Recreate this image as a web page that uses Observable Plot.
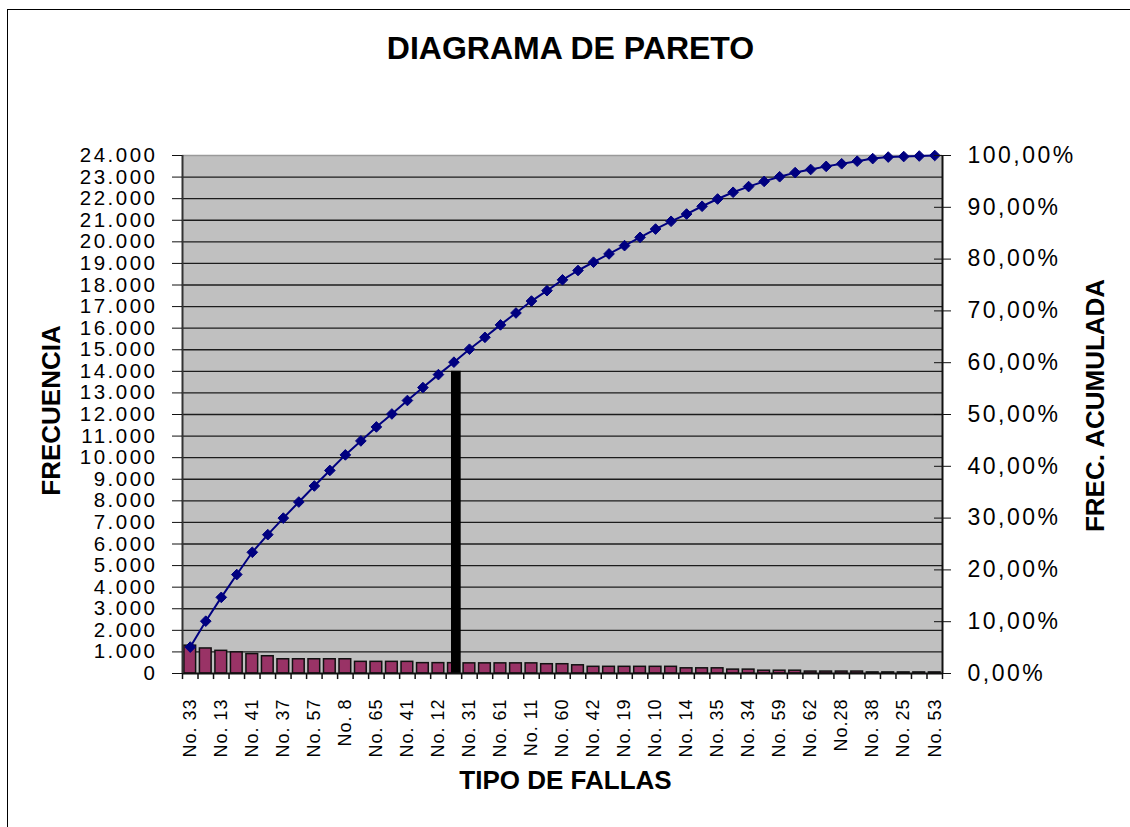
<!DOCTYPE html>
<html>
<head>
<meta charset="utf-8">
<script src="https://cdn.jsdelivr.net/npm/d3@7"></script>
<script src="https://cdn.jsdelivr.net/npm/@observablehq/plot@0.6"></script>
<style>
  html, body { margin: 0; padding: 0; background: #fff; }
  #wrap { position: relative; width: 1130px; height: 827px; overflow: hidden; }
  #border { position: absolute; left: 7px; top: 9px; width: 2000px; height: 2000px;
            border-top: 1.5px solid #000; border-left: 1.5px solid #000; pointer-events: none; }
  g[aria-label="y-axis tick label"] text { letter-spacing: 2.5px; }
  g[aria-label="x-axis tick label"] text { letter-spacing: 1px; }
</style>
</head>
<body>
<div id="wrap"><div id="border"></div></div>
<script>
// ---- data ----
const xLabels = ["No. 33","No. 13","No. 41","No. 37","No. 57","No. 8","No. 65","No. 41","No. 12",
  "No. 31","No. 61","No. 11","No. 60","No. 42","No. 19","No. 10","No. 14","No. 35","No. 34",
  "No. 59","No. 62","No.28","No. 38","No. 25","No. 53"]; // shown on every other category
const nCategories = 49;
const frequencies = [1290,1160,1050,980,900,800,660,660,660,660,660,540,540,540,540,480,480,480,
  470,470,470,470,470,430,430,380,310,310,310,310,310,310,240,240,240,180,180,130,130,130,
  90,90,90,90,50,50,50,50,50];
const cumulativePct = [5.1,10.1,14.7,19.1,23.4,26.8,30.0,33.1,36.2,39.2,42.2,44.9,47.6,50.1,52.7,
  55.2,57.7,60.1,62.6,64.9,67.3,69.6,71.9,73.9,76.0,77.8,79.4,81.0,82.6,84.2,85.8,87.3,88.7,90.2,
  91.6,92.9,94.0,95.0,95.9,96.7,97.3,97.9,98.4,98.9,99.4,99.7,99.8,99.9,100.0];
const markerIndex = 17;
const markerValue = 14000;
const yTicks = d3.range(0, 24001, 1000);
const yTickLabels = yTicks.map(v => v === 0 ? "0" : d3.format(",")(v).replace(/,/g, "."));
const pctTicks = [0,10,20,30,40,50,60,70,80,90,100];
const pctTickLabels = ["0,00%","10,00%","20,00%","30,00%","40,00%","50,00%","60,00%","70,00%","80,00%","90,00%","100,00%"];

// ---- chart ----
const yMax = 24000;
const pctToY = p => p * yMax / 100;
const bw = 760 / nCategories;
const idx = d3.range(nCategories);
const barData = frequencies.map((v, i) => ({i, v}));
const lineData = cumulativePct.map((p, i) => ({i, y: pctToY(p)}));

const chart = Plot.plot({
  width: 1130, height: 827,
  marginLeft: 182, marginRight: 188, marginTop: 155, marginBottom: 154,
  style: {fontFamily: "'Liberation Sans', Arial, sans-serif", background: "transparent", color: "#000"},
  x: {type: "band", domain: idx, padding: 0, round: false, axis: null, label: null},
  y: {domain: [0, yMax], axis: null, label: null},
  marks: [
    Plot.frame({fill: "#c0c0c0", stroke: "none"}),
    Plot.gridY(yTicks.filter(v => v > 0 && v < yMax), {stroke: "#1c1c1c", strokeOpacity: 1, strokeWidth: 1.4}),
    Plot.ruleY([yMax], {stroke: "#9a9a9a", strokeWidth: 1.5}),
    Plot.barY(barData, {x: "i", y: "v", fill: "#993366", stroke: "#111", strokeWidth: 1.5, insetLeft: 1.9, insetRight: 1.9}),
    Plot.barY([{i: markerIndex, v: markerValue}], {x: "i", y: "v", fill: "#000", insetLeft: 5.3, insetRight: 0.5}),
    Plot.ruleY([0], {stroke: "#111", strokeWidth: 2}),
    Plot.ruleX([0], {dx: -bw / 2, stroke: "#333", strokeWidth: 2}),
    Plot.ruleX([nCategories - 1], {dx: bw / 2, stroke: "#111", strokeWidth: 2}),
    Plot.ruleX(idx, {x: d => d, y1: 0, y2: -280, dx: -bw / 2, stroke: "#111", strokeWidth: 1.5}),
    Plot.ruleX([nCategories - 1], {y1: 0, y2: -280, dx: bw / 2, stroke: "#111", strokeWidth: 1.5}),
    Plot.line(lineData, {x: "i", y: "y", stroke: "#000080", strokeWidth: 2}),
    Plot.dot(lineData, {x: "i", y: "y", symbol: "diamond2", r: 4.8, fill: "#000080", stroke: "#000080", strokeWidth: 1}),
    Plot.axisX(d3.range(0, nCategories, 2), {anchor: "bottom", label: null, tickSize: 0, tickPadding: 25, tickRotate: -90,
      tickFormat: i => xLabels[i / 2], fontSize: 18, fill: "#000"}),
    Plot.axisY(yTicks, {anchor: "left", label: null, tickSize: 10, tickPadding: 15, fontSize: 20.5, stroke: "#111",
      tickFormat: d => yTickLabels[yTicks.indexOf(d)]}),
    Plot.axisY(pctTicks.map(pctToY), {anchor: "right", label: null, tickSize: 8, tickPadding: 17, fontSize: 23, stroke: "#111",
      tickFormat: d => pctTickLabels[pctTicks.indexOf(d * 100 / yMax)]}),
    Plot.axisY(pctTicks.map(pctToY), {anchor: "right", label: null, tickSize: 9, dx: -9, stroke: "#111", tickFormat: () => ""}),
    Plot.text(["DIAGRAMA DE PARETO"], {text: d => d, frameAnchor: "top", textAnchor: "middle", lineAnchor: "middle", dx: 8, dy: -107, fontSize: 32, fontWeight: "bold"}),
    Plot.text(["FRECUENCIA"], {text: d => d, frameAnchor: "left", textAnchor: "middle", lineAnchor: "middle", dx: -131, dy: -4, rotate: -90, fontSize: 26, fontWeight: "bold"}),
    Plot.text(["FREC. ACUMULADA"], {text: d => d, frameAnchor: "right", textAnchor: "middle", lineAnchor: "middle", dx: 153, dy: -9, rotate: -90, fontSize: 26, fontWeight: "bold"}),
    Plot.text(["TIPO DE FALLAS"], {text: d => d, frameAnchor: "bottom", textAnchor: "middle", lineAnchor: "middle", dx: 3, dy: 107, fontSize: 26, fontWeight: "bold"})
  ]
});
document.getElementById("wrap").appendChild(chart);
</script>
</body>
</html>
